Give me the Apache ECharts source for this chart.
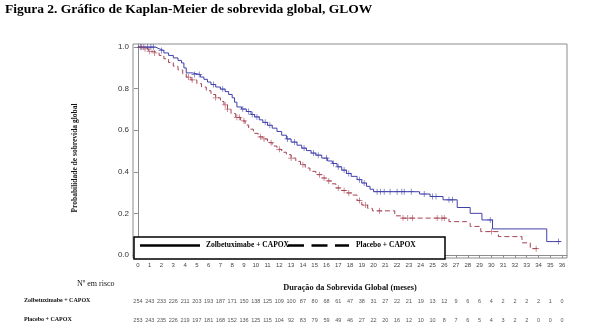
<!DOCTYPE html>
<html>
<head>
<meta charset="utf-8">
<script src="https://cdn.jsdelivr.net/npm/echarts@6/dist/echarts.min.js"></script>
<style>
  html, body { margin: 0; padding: 0; background: #fff; }
  #chart { width: 600px; height: 333px; }
</style>
</head>
<body>
<div id="chart"></div>
<script>
// Months shown on the time axis and in the number-at-risk table
const months = [0,1,2,3,4,5,6,7,8,9,10,11,12,13,14,15,16,17,18,19,20,21,22,23,24,25,26,27,28,29,30,31,32,33,34,35,36];
const riskZolbe   = [254,243,233,226,211,203,193,187,171,150,138,125,109,100,87,80,68,61,47,38,31,27,22,21,19,13,12,9,6,6,4,2,2,2,2,1,0];
const riskPlacebo = [253,243,235,226,219,197,181,168,152,136,125,115,104,92,83,79,59,49,46,27,22,20,16,12,10,10,8,7,6,5,4,3,2,2,0,0,0];

// Kaplan-Meier estimates: time of each step (months) and survival after it
const zolbeTimes = [0,1.5,1.8,2.2,2.6,3.0,3.4,3.7,3.9,4.1,4.6,5.3,5.6,5.9,6.2,6.6,7.0,7.4,7.7,8.0,8.2,8.4,8.8,9.2,9.6,9.9,10.3,10.6,11.0,11.4,11.8,12.2,12.6,13.0,13.5,13.9,14.3,14.7,15.1,15.6,16.1,16.5,16.9,17.3,17.7,18.1,18.6,19.0,19.4,19.7,20.0,23.9,24.8,25.9,27.1,28.2,29.2,30.1,34.7];
const zolbeSurv  = [1.0,0.992,0.984,0.972,0.96,0.948,0.936,0.924,0.90,0.876,0.868,0.856,0.845,0.832,0.82,0.808,0.798,0.786,0.772,0.756,0.735,0.712,0.702,0.69,0.676,0.664,0.65,0.638,0.624,0.61,0.594,0.576,0.558,0.543,0.528,0.514,0.502,0.49,0.48,0.466,0.452,0.44,0.424,0.408,0.392,0.378,0.362,0.346,0.33,0.316,0.304,0.293,0.281,0.265,0.228,0.20,0.168,0.125,0.064];
const zolbeEnd = 35.9;
const zolbeCensor = [0.2,0.5,0.8,1.1,1.3,2.0,4.8,5.2,6.4,7.2,8.9,9.4,9.7,10.1,10.8,11.2,12.7,13.3,14.1,14.9,15.3,16.0,16.6,17.0,17.5,17.9,18.8,19.2,20.3,20.6,20.9,21.4,22.0,22.4,22.6,23.2,24.3,25.0,25.3,26.4,26.7,29.9,35.7];

const placeboTimes = [0,0.6,0.9,1.3,1.8,2.2,2.6,3.0,3.4,3.8,4.1,4.5,5.0,5.4,5.8,6.2,6.6,7.0,7.3,7.6,7.9,8.3,8.7,9.1,9.4,9.8,10.2,10.6,11.0,11.4,11.8,12.2,12.6,13.0,13.4,13.8,14.2,14.6,15.1,15.6,16.0,16.4,16.8,17.2,17.7,18.2,18.6,19.0,19.5,19.9,21.8,22.3,26.4,27.9,28.2,29.1,30.6,32.6,33.3];
const placeboSurv  = [1.0,0.992,0.98,0.972,0.96,0.944,0.926,0.908,0.89,0.872,0.856,0.842,0.824,0.808,0.79,0.772,0.756,0.738,0.722,0.702,0.68,0.662,0.645,0.625,0.605,0.585,0.568,0.558,0.54,0.524,0.508,0.494,0.482,0.466,0.45,0.434,0.418,0.402,0.386,0.37,0.356,0.342,0.322,0.31,0.298,0.288,0.262,0.24,0.224,0.212,0.188,0.177,0.16,0.153,0.137,0.112,0.088,0.058,0.030];
const placeboEnd = 33.9;
const placeboCensor = [0.3,0.6,1.0,1.4,4.3,4.6,6.6,7.4,7.6,8.4,8.6,9.0,10.4,10.7,11.3,12.0,13.0,14.0,15.4,15.8,16.2,17.0,17.5,17.9,18.8,19.3,20.5,22.5,22.9,23.3,25.4,25.8,26.0,30.0,33.8];

const BLUE = '#4040aa';
const RED = '#a64252';

function stepData(times, surv, end) {
  const pts = times.map((t, i) => [t, surv[i]]);
  pts.push([end, surv[surv.length - 1]]);
  return pts;
}
function survAt(times, surv, t) {
  let s = surv[0];
  for (let i = 0; i < times.length; i++) { if (times[i] <= t) s = surv[i]; }
  return s;
}
function censorData(times, surv, cens) {
  return cens.map(t => [t, survAt(times, surv, t)]);
}

// thin "+" glyph used for censored observations
const PLUS = 'path://M4.4,0H5.6V4.4H10V5.6H5.6V10H4.4V5.6H0V4.4H4.4Z';
const yTicks = [0, 0.2, 0.4, 0.6, 0.8, 1.0];
const serif = '"Liberation Serif", "DejaVu Serif", serif';
const sans = '"Liberation Sans", Arial, sans-serif';
const X_MIN = -0.42, X_MAX = 36.42;

const riskAxis = (arr, offset) => ({
  type: 'value', gridIndex: 0, position: 'bottom', offset: offset,
  min: X_MIN, max: X_MAX,
  axisLine: { show: false }, axisTick: { show: false }, splitLine: { show: false },
  axisLabel: {
    customValues: months, margin: 4, fontSize: 5.5, color: '#555', fontFamily: sans,
    formatter: v => String(arr[Math.round(v)])
  }
});

const chart = echarts.init(document.getElementById('chart'), null, { renderer: 'canvas' });
chart.setOption({
  animation: false,
  backgroundColor: '#fff',
  grid: { left: 133, right: 33, top: 44, bottom: 75, show: true, borderColor: '#8c8c8c', borderWidth: 1, backgroundColor: 'transparent' },
  xAxis: [
    {
      type: 'value', min: X_MIN, max: X_MAX,
      name: 'Duração da Sobrevida Global (meses)', nameLocation: 'middle', nameGap: 26,
      nameTextStyle: { fontFamily: serif, fontWeight: 'bold', fontSize: 8.3, color: '#111' },
      axisLine: { show: true, lineStyle: { color: '#8c8c8c', width: 1 } },
      axisTick: { show: true, customValues: months, length: 3, lineStyle: { color: '#8c8c8c' } },
      axisLabel: { customValues: months, margin: 4, fontSize: 6, color: '#444', fontFamily: sans },
      splitLine: { show: false }
    },
    riskAxis(riskZolbe, 36),
    riskAxis(riskPlacebo, 55)
  ],
  yAxis: {
    type: 'value', min: -0.015, max: 1.015,
    axisLine: { show: true, lineStyle: { color: '#8c8c8c', width: 1 } },
    axisTick: { show: true, customValues: yTicks, length: 4, lineStyle: { color: '#8c8c8c' } },
    axisLabel: { customValues: yTicks, margin: 4, fontSize: 8, color: '#333', fontFamily: sans, formatter: v => v.toFixed(1) },
    splitLine: { show: false }
  },
  series: [
    {
      name: 'Zolbetuximabe + CAPOX', type: 'line', step: 'end', showSymbol: false,
      data: stepData(zolbeTimes, zolbeSurv, zolbeEnd),
      lineStyle: { color: BLUE, width: 1 }, z: 3
    },
    {
      name: 'Placebo + CAPOX', type: 'line', step: 'end', showSymbol: false,
      data: stepData(placeboTimes, placeboSurv, placeboEnd),
      lineStyle: { color: RED, width: 1, type: [5, 3] }, z: 2
    },
    {
      type: 'scatter', symbol: PLUS, symbolSize: 6,
      data: censorData(zolbeTimes, zolbeSurv, zolbeCensor),
      itemStyle: { color: BLUE }, z: 4
    },
    {
      type: 'scatter', symbol: PLUS, symbolSize: 6,
      data: censorData(placeboTimes, placeboSurv, placeboCensor),
      itemStyle: { color: RED }, z: 4
    }
  ],
  graphic: [
    { type: 'text', left: 5, top: 3, style: { text: 'Figura 2. Gráfico de Kaplan-Meier de sobrevida global, GLOW', font: 'bold 13.5px ' + serif, fill: '#000' } },
    { type: 'text', x: 75, y: 158, rotation: Math.PI / 2, style: { text: 'Probabilidade de sobrevida global', font: 'bold 7.5px ' + serif, fill: '#111', align: 'center', verticalAlign: 'middle' } },
    // legend box
    { type: 'rect', shape: { x: 134, y: 237, width: 311, height: 22 }, style: { fill: '#fff', stroke: '#000', lineWidth: 1.5 }, z: 10 },
    { type: 'line', shape: { x1: 140, y1: 245.5, x2: 200, y2: 245.5 }, style: { stroke: '#000', lineWidth: 2.5 }, z: 11 },
    { type: 'text', x: 206, y: 245.5, style: { text: 'Zolbetuximabe + CAPOX', font: 'bold 7.5px ' + serif, fill: '#000', verticalAlign: 'middle' }, z: 11 },
    { type: 'line', shape: { x1: 288, y1: 245.5, x2: 349, y2: 245.5 }, style: { stroke: '#000', lineWidth: 2.5, lineDash: [16, 7.5] }, z: 11 },
    { type: 'text', x: 356, y: 245.5, style: { text: 'Placebo + CAPOX', font: 'bold 7.5px ' + serif, fill: '#000', verticalAlign: 'middle' }, z: 11 },
    // number-at-risk table headings
    { type: 'text', x: 77, y: 284, style: { text: 'Nº em risco', font: '8px ' + serif, fill: '#111', verticalAlign: 'middle' } },
    { type: 'text', x: 24, y: 300, style: { text: 'Zolbetuximabe + CAPOX', font: 'bold 6px ' + serif, fill: '#111', verticalAlign: 'middle' } },
    { type: 'text', x: 24, y: 319, style: { text: 'Placebo + CAPOX', font: 'bold 6px ' + serif, fill: '#111', verticalAlign: 'middle' } }
  ]
});
</script>
</body>
</html>
